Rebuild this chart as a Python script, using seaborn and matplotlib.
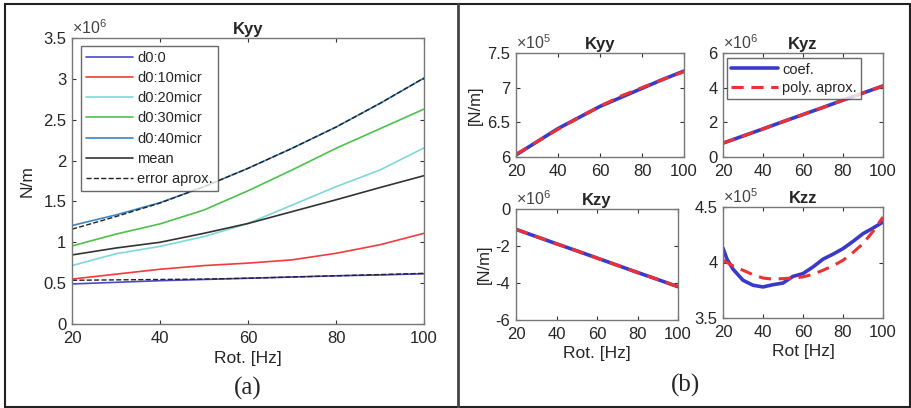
import matplotlib
matplotlib.use("Agg")
import matplotlib.pyplot as plt
import seaborn as sns
import numpy as np
from matplotlib.lines import Line2D
from matplotlib.ticker import FuncFormatter

sns.set_style("white")
plt.rcParams['font.family'] = ['Liberation Sans', 'DejaVu Sans']
plt.rcParams['mathtext.fontset'] = 'custom'
plt.rcParams['mathtext.rm'] = 'Liberation Sans'

# --- (a) Kyy for several d0, values in 1e6 N/m
rot = [20, 30, 40, 50, 60, 70, 80, 90, 100]
d0_0 = [0.49, 0.51, 0.53, 0.545, 0.56, 0.575, 0.59, 0.60, 0.615]
d0_10 = [0.55, 0.61, 0.67, 0.715, 0.745, 0.785, 0.865, 0.97, 1.11]
d0_20 = [0.715, 0.86, 0.95, 1.07, 1.23, 1.455, 1.68, 1.885, 2.155]
d0_30 = [0.955, 1.10, 1.225, 1.395, 1.63, 1.885, 2.15, 2.39, 2.63]
d0_40 = [1.205, 1.335, 1.485, 1.68, 1.905, 2.15, 2.41, 2.70, 3.01]
mean = [0.845, 0.93, 1.0, 1.11, 1.23, 1.375, 1.52, 1.67, 1.815]
err_hi = [1.16, 1.315, 1.48, 1.68, 1.905, 2.15, 2.41, 2.70, 3.01]
err_lo = [0.535, 0.54, 0.545, 0.55, 0.56, 0.575, 0.59, 0.605, 0.62]

series_a = [("d0:0", d0_0, "#4a4ac8"), ("d0:10micr", d0_10, "#f03c3c"),
            ("d0:20micr", d0_20, "#7fd8d8"), ("d0:30micr", d0_30, "#4cc24c"),
            ("d0:40micr", d0_40, "#3a86c8"), ("mean", mean, "#333333")]

# --- (b) coefficients and polynomial approximations
kyy_coef = [6.03, 6.22, 6.41, 6.57, 6.73, 6.86, 6.99, 7.12, 7.24]   # x1e5
kyy_poly = [6.04, 6.22, 6.40, 6.57, 6.73, 6.88, 7.00, 7.12, 7.23]
kyz_coef = [0.8, 1.21, 1.62, 2.04, 2.45, 2.86, 3.28, 3.69, 4.1]      # x1e6
kyz_poly = [0.8, 1.21, 1.62, 2.04, 2.45, 2.86, 3.28, 3.69, 4.1]
kzy_coef = [-1.1, -1.49, -1.88, -2.26, -2.65, -3.04, -3.43, -3.81, -4.2]  # x1e6
kzy_poly = [-1.1, -1.49, -1.88, -2.26, -2.65, -3.04, -3.43, -3.81, -4.2]
rot_zz = [20, 22, 25, 30, 35, 40, 45, 50, 55, 60, 65, 70, 75, 80, 85, 90, 95, 100]
kzz_coef = [4.13, 4.03, 3.94, 3.84, 3.795, 3.78, 3.80, 3.815, 3.875, 3.90,
            3.96, 4.03, 4.075, 4.125, 4.19, 4.26, 4.31, 4.365]          # x1e5
kzz_poly = [4.02, 4.00, 3.97, 3.93, 3.89, 3.86, 3.85, 3.855, 3.86, 3.87,
            3.895, 3.93, 3.97, 4.02, 4.09, 4.17, 4.28, 4.41]

W, H = 911, 408
fig = plt.figure(figsize=(W / 100, H / 100), dpi=100)


def box(l, t, r, b):
    return fig.add_axes([l / W, 1 - b / H, (r - l) / W, (b - t) / H])


def style(ax, title, exp, xlim, ylim, yticks):
    ax.set_xlim(*xlim)
    ax.set_ylim(*ylim)
    ax.set_xticks([20, 40, 60, 80, 100])
    ax.set_yticks(yticks)
    ax.yaxis.set_major_formatter(FuncFormatter(lambda v, p: '%g' % v))
    ax.tick_params(direction='in', length=3, width=0.8, color='#333333',
                   labelsize=12, top=True, right=True,
                   bottom=True, left=True, labeltop=False, labelright=False)
    ax.tick_params(axis='x', pad=5)
    ax.tick_params(axis='y', pad=4)
    for s in ax.spines.values():
        s.set_color('#777777')
        s.set_linewidth(1.0)
    ax.set_title(title, fontsize=12, fontweight='bold', pad=3)
    ax.text(0.0, 1.005, r'$\times10^{%d}$' % exp, transform=ax.transAxes,
            fontsize=11.5, color='#444444', ha='left', va='bottom')
    ax.set_xlabel('')
    ax.set_ylabel('')


# ---------------- panel (a)
axa = box(72, 38, 424, 324)
for lab, vals, col in series_a:
    sns.lineplot(x=rot, y=vals, ax=axa, color=col, linewidth=1.2, label=lab)
sns.lineplot(x=rot, y=err_hi, ax=axa, color='#222222', linewidth=1.0,
             linestyle='--', label='error aprox.')
sns.lineplot(x=rot, y=err_lo, ax=axa, color='#222222', linewidth=1.0,
             linestyle='--')
style(axa, 'Kyy', 6, (20, 100), (0, 3.5), np.arange(0, 3.51, 0.5))
axa.set_xlabel('Rot. [Hz]', fontsize=12.5, labelpad=4)
axa.set_ylabel('N/m', fontsize=12.5, labelpad=6)
handles = [Line2D([], [], color=c, lw=1.2) for _, _, c in series_a]
handles.append(Line2D([], [], color='#222222', lw=1.0, ls='--'))
labels = [s[0] for s in series_a] + ['error aprox.']
leg = axa.legend(handles, labels, loc='upper left', fontsize=10.5,
                 frameon=True, fancybox=False, edgecolor='#444444',
                 handlelength=3.2, borderpad=0.35, labelspacing=0.42,
                 handletextpad=0.3, borderaxespad=0,
                 bbox_to_anchor=(0.026, 0.972))
leg.get_frame().set_linewidth(1.0)

# ---------------- panel (b)
blue, red = '#3a3ac8', '#f03030'
specs = [
    ((516, 53, 684, 157), 'Kyy', 5, rot, kyy_coef, kyy_poly, (6, 7.5), [6, 6.5, 7, 7.5], '[N/m]', ''),
    ((723, 53, 883, 157), 'Kyz', 6, rot, kyz_coef, kyz_poly, (0, 6), [0, 2, 4, 6], '', ''),
    ((516, 209, 678, 320), 'Kzy', 6, rot, kzy_coef, kzy_poly, (-6, 0), [-6, -4, -2, 0], '[N/m]', 'Rot. [Hz]'),
    ((723, 207, 883, 318), 'Kzz', 5, rot_zz, kzz_coef, kzz_poly, (3.5, 4.5), [3.5, 4, 4.5], '', 'Rot [Hz]'),
]
for rect, title, exp, xs, coef, poly, ylim, yt, ylab, xlab in specs:
    ax = box(*rect)
    sns.lineplot(x=xs, y=coef, ax=ax, color=blue, linewidth=2.6)
    sns.lineplot(x=xs, y=poly, ax=ax, color=red, linewidth=2.2,
                 linestyle=(0, (4, 2.5)))
    style(ax, title, exp, (20, 100), ylim, yt)
    ax.set_ylabel(ylab, fontsize=12, labelpad=3)
    ax.set_xlabel(xlab, fontsize=12.5, labelpad=3)
    if title == 'Kyz':
        h = [Line2D([], [], color=blue, lw=2.6),
             Line2D([], [], color=red, lw=2.2, ls=(0, (4, 2.5)))]
        lg = ax.legend(h, ['coef.', 'poly. aprox.'], loc='upper left',
                       fontsize=10.5, frameon=True, fancybox=False,
                       edgecolor='#444444', handlelength=3.2, borderpad=0.3,
                       labelspacing=0.3, handletextpad=0.3, borderaxespad=0,
                       bbox_to_anchor=(0.025, 0.95))
        lg.get_frame().set_linewidth(1.0)

# captions, border and separator
fig.text(248 / W, 1 - 388 / H, '(a)', fontsize=18, family='Liberation Serif',
         ha='center', va='center')
fig.text(685 / W, 1 - 385 / H, '(b)', fontsize=18, family='Liberation Serif',
         ha='center', va='center')
fig.add_artist(plt.Rectangle((5 / W, 1 - 407 / H), 905 / W, 403 / H,
                             transform=fig.transFigure, fill=False,
                             edgecolor='#222222', linewidth=1.5))
fig.add_artist(Line2D([457.5 / W, 457.5 / W], [1 - 407 / H, 1 - 4 / H],
                      transform=fig.transFigure, color='#444444', linewidth=2))

fig.savefig('out.png', dpi=100)
